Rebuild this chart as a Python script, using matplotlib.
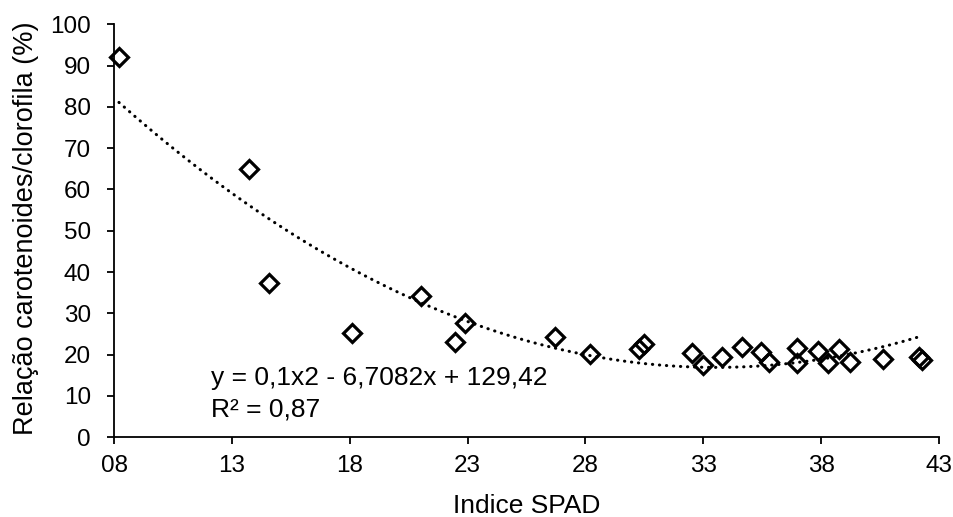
import numpy as np
import matplotlib.pyplot as plt

plt.rcParams['font.family'] = ['Liberation Sans', 'DejaVu Sans']

# índice SPAD e relação carotenoides/clorofila (%)
spad = [8.21, 13.71, 14.59, 18.11, 21.01, 22.48, 22.91, 26.71, 28.20, 30.29,
        30.49, 32.50, 33.00, 33.78, 34.65, 35.43, 35.79, 36.98, 36.98, 37.87,
        38.30, 38.77, 39.23, 40.61, 42.17, 42.27]
relacao = [92.2, 65.0, 37.3, 25.3, 34.3, 23.1, 27.7, 24.4, 20.1, 21.3,
           22.6, 20.3, 17.5, 19.4, 21.8, 20.7, 18.3, 21.5, 18.1, 21.0,
           18.1, 21.3, 18.3, 18.9, 19.4, 18.7]

# linha de tendência (polinomial, como na equação do gráfico)
coef = [0.1, -6.7082, 129.42]
xticks = [8, 13, 18, 23, 28, 33, 38, 43]

fig = plt.figure(figsize=(9.54, 5.17), dpi=100)
ax = fig.add_axes([0.1195, 0.1542, 0.8648, 0.7988])

xt = np.linspace(min(spad), max(spad), 200)
ax.plot(xt, np.polyval(coef, xt), color='black', linewidth=2.2,
        linestyle=(0, (0.1, 2.2)), dash_capstyle='round', zorder=2)
ax.plot(spad, relacao, linestyle='none', marker='D', markersize=9.5,
        markerfacecolor='none', markeredgecolor='black', markeredgewidth=2.3,
        zorder=3, clip_on=False)

ax.set_xlim(8, 43)
ax.set_ylim(0, 100)
ax.set_xticks(xticks)
ax.set_xticklabels(['%02d' % t for t in xticks])
ax.set_yticks(range(0, 101, 10))
ax.tick_params(labelsize=17.5, length=5, width=1.3, direction='out')
ax.tick_params(axis='x', pad=8)
ax.tick_params(axis='y', pad=11.5)
for s in ['top', 'right']:
    ax.spines[s].set_visible(False)
for s in ['left', 'bottom']:
    ax.spines[s].set_linewidth(1.3)

ax.set_xlabel('Indice SPAD', fontsize=19)
ax.set_ylabel('Relação carotenoides/clorofila (%)', fontsize=19.5)
ax.xaxis.set_label_coords(527 / 954, 1 - 506 / 517, transform=fig.transFigure)
ax.yaxis.set_label_coords(26 / 954, 1 - 228 / 517, transform=fig.transFigure)
ax.xaxis.label.set_va('center')
ax.yaxis.label.set_va('center')

ax.text(211 / 954, 1 - 385 / 517, 'y = 0,1x2 - 6,7082x + 129,42',
        transform=fig.transFigure, fontsize=19, va='baseline', ha='left')
ax.text(211 / 954, 1 - 416.5 / 517, 'R² = 0,87',
        transform=fig.transFigure, fontsize=19, va='baseline', ha='left')

fig.savefig('out.png', dpi=100)
